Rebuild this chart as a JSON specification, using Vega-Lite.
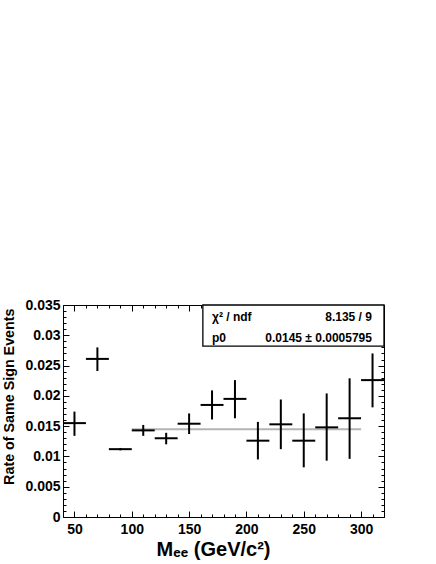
{
  "$schema": "https://vega.github.io/schema/vega-lite/v6.json",
  "width": 321,
  "height": 212,
  "autosize": "none",
  "padding": {"left": 63, "top": 305, "right": 52, "bottom": 47},
  "background": "white",
  "config": {
    "view": {"stroke": "black", "strokeWidth": 1},
    "font": "Liberation Sans",
    "axis": {
      "domain": false,
      "grid": false,
      "tickColor": "black",
      "tickWidth": 1,
      "labelFont": "Liberation Sans",
      "labelFontWeight": "bold",
      "labelFontSize": 14,
      "labelColor": "black",
      "titleFont": "Liberation Sans",
      "titleFontWeight": "bold",
      "titleColor": "black"
    }
  },
  "resolve": {"axis": {"x": "independent", "y": "independent"}},
  "layer": [
    {
      "data": {"values": [{"fit_lo": 100, "fit_hi": 300, "p0": 0.0145}]},
      "mark": {"type": "rule", "color": "#b4b4b4", "strokeWidth": 2},
      "encoding": {
        "x": {"field": "fit_lo", "type": "quantitative", "scale": {"domain": [40, 320], "nice": false, "zero": false},
          "axis": {"orient": "top", "values": [50, 100, 150, 200, 250, 300], "tickSize": -6, "labels": false, "title": null}},
        "x2": {"field": "fit_hi"},
        "y": {"field": "p0", "type": "quantitative", "scale": {"domain": [0, 0.035], "nice": false, "zero": false},
          "axis": {"orient": "right", "values": [0, 0.005, 0.01, 0.015, 0.02, 0.025, 0.03, 0.035], "tickSize": -6, "labels": false, "title": null}}
      }
    },
    {
      "data": {"name": "points"},
      "mark": {"type": "rule", "color": "black", "strokeWidth": 2},
      "encoding": {
        "x": {"field": "bin_lo", "type": "quantitative", "scale": {"domain": [40, 320], "nice": false, "zero": false},
          "axis": {"orient": "bottom", "values": [50, 100, 150, 200, 250, 300], "tickSize": -6, "labelPadding": 11,
            "title": "Mₑₑ (GeV/c²)", "titleFontSize": 20, "titleX": 150, "titleY": 38, "titleAlign": "center", "titleBaseline": "alphabetic"}},
        "x2": {"field": "bin_hi"},
        "y": {"field": "rate", "type": "quantitative", "scale": {"domain": [0, 0.035], "nice": false, "zero": false},
          "axis": {"orient": "left", "values": [0, 0.005, 0.01, 0.015, 0.02, 0.025, 0.03, 0.035], "format": ".3~f", "tickSize": -6, "labelPadding": 9,
            "title": "Rate of Same Sign Events", "titleFontSize": 14.3, "titleX": -54, "titleY": 3, "titleAlign": "right", "titleBaseline": "middle", "titleAngle": 270}}
      }
    },
    {
      "data": {"name": "points"},
      "mark": {"type": "rule", "color": "black", "strokeWidth": 2},
      "encoding": {
        "x": {"field": "mass", "type": "quantitative", "scale": {"domain": [40, 320], "nice": false, "zero": false},
          "axis": {"orient": "bottom", "values": [40, 60, 70, 80, 90, 110, 120, 130, 140, 160, 170, 180, 190, 210, 220, 230, 240, 260, 270, 280, 290, 310, 320], "tickSize": -3, "labels": false, "title": null}},
        "y": {"field": "rate_lo", "type": "quantitative", "scale": {"domain": [0, 0.035], "nice": false, "zero": false},
          "axis": {"orient": "left", "values": [0.001, 0.002, 0.003, 0.004, 0.006, 0.007, 0.008, 0.009, 0.011, 0.012, 0.013, 0.014, 0.016, 0.017, 0.018, 0.019, 0.021, 0.022, 0.023, 0.024, 0.026, 0.027, 0.028, 0.029, 0.031, 0.032, 0.033, 0.034], "tickSize": -3, "labels": false, "title": null}},
        "y2": {"field": "rate_hi"}
      }
    },
    {
      "data": {"values": [{}]},
      "mark": {"type": "rect", "fill": "white", "stroke": "black", "strokeWidth": 1.3},
      "encoding": {
        "x": {"datum": 162, "type": "quantitative", "scale": {"domain": [40, 320], "nice": false, "zero": false},
          "axis": {"orient": "top", "values": [40, 60, 70, 80, 90, 110, 120, 130, 140, 160, 170, 180, 190, 210, 220, 230, 240, 260, 270, 280, 290, 310, 320], "tickSize": -3, "labels": false, "title": null}},
        "x2": {"datum": 320},
        "y": {"datum": 0.0282, "type": "quantitative", "scale": {"domain": [0, 0.035], "nice": false, "zero": false},
          "axis": {"orient": "right", "values": [0.001, 0.002, 0.003, 0.004, 0.006, 0.007, 0.008, 0.009, 0.011, 0.012, 0.013, 0.014, 0.016, 0.017, 0.018, 0.019, 0.021, 0.022, 0.023, 0.024, 0.026, 0.027, 0.028, 0.029, 0.031, 0.032, 0.033, 0.034], "tickSize": -3, "labels": false, "title": null}},
        "y2": {"datum": 0.035}
      }
    },
    {
      "data": {"values": [{}]},
      "mark": {"type": "text", "align": "left", "baseline": "middle", "font": "Liberation Sans", "fontWeight": "bold", "fontSize": 12, "color": "black"},
      "encoding": {
        "x": {"datum": 170, "type": "quantitative", "axis": null},
        "y": {"datum": 0.0331, "type": "quantitative", "axis": null},
        "text": {"value": "χ² / ndf"}
      }
    },
    {
      "data": {"values": [{}]},
      "mark": {"type": "text", "align": "right", "baseline": "middle", "font": "Liberation Sans", "fontWeight": "bold", "fontSize": 12, "color": "black"},
      "encoding": {
        "x": {"datum": 309.5, "type": "quantitative", "axis": null},
        "y": {"datum": 0.0331, "type": "quantitative", "axis": null},
        "text": {"value": "8.135 / 9"}
      }
    },
    {
      "data": {"values": [{}]},
      "mark": {"type": "text", "align": "left", "baseline": "middle", "font": "Liberation Sans", "fontWeight": "bold", "fontSize": 12, "color": "black"},
      "encoding": {
        "x": {"datum": 170, "type": "quantitative", "axis": null},
        "y": {"datum": 0.0296, "type": "quantitative", "axis": null},
        "text": {"value": "p0"}
      }
    },
    {
      "data": {"values": [{}]},
      "mark": {"type": "text", "align": "right", "baseline": "middle", "font": "Liberation Sans", "fontWeight": "bold", "fontSize": 12, "color": "black"},
      "encoding": {
        "x": {"datum": 309.5, "type": "quantitative", "axis": null},
        "y": {"datum": 0.0296, "type": "quantitative", "axis": null},
        "text": {"value": "0.0145 ± 0.0005795"}
      }
    }
  ],
  "datasets": {
    "points": [
      {"mass": 50, "bin_lo": 40, "bin_hi": 60, "rate": 0.0155, "rate_lo": 0.0134, "rate_hi": 0.0174},
      {"mass": 70, "bin_lo": 60, "bin_hi": 80, "rate": 0.0261, "rate_lo": 0.0241, "rate_hi": 0.0280},
      {"mass": 90, "bin_lo": 80, "bin_hi": 100, "rate": 0.0112, "rate_lo": 0.0110, "rate_hi": 0.0114},
      {"mass": 110, "bin_lo": 100, "bin_hi": 120, "rate": 0.0143, "rate_lo": 0.0134, "rate_hi": 0.0152},
      {"mass": 130, "bin_lo": 120, "bin_hi": 140, "rate": 0.0130, "rate_lo": 0.0120, "rate_hi": 0.0139},
      {"mass": 150, "bin_lo": 140, "bin_hi": 160, "rate": 0.0154, "rate_lo": 0.0137, "rate_hi": 0.0171},
      {"mass": 170, "bin_lo": 160, "bin_hi": 180, "rate": 0.0185, "rate_lo": 0.0161, "rate_hi": 0.0209},
      {"mass": 190, "bin_lo": 180, "bin_hi": 200, "rate": 0.0195, "rate_lo": 0.0163, "rate_hi": 0.0226},
      {"mass": 210, "bin_lo": 200, "bin_hi": 220, "rate": 0.0126, "rate_lo": 0.0095, "rate_hi": 0.0157},
      {"mass": 230, "bin_lo": 220, "bin_hi": 240, "rate": 0.0153, "rate_lo": 0.0112, "rate_hi": 0.0194},
      {"mass": 250, "bin_lo": 240, "bin_hi": 260, "rate": 0.0126, "rate_lo": 0.0082, "rate_hi": 0.0171},
      {"mass": 270, "bin_lo": 260, "bin_hi": 280, "rate": 0.0148, "rate_lo": 0.0093, "rate_hi": 0.0204},
      {"mass": 290, "bin_lo": 280, "bin_hi": 300, "rate": 0.0163, "rate_lo": 0.0096, "rate_hi": 0.0229},
      {"mass": 310, "bin_lo": 300, "bin_hi": 320, "rate": 0.0226, "rate_lo": 0.0181, "rate_hi": 0.0270}
    ]
  }
}
